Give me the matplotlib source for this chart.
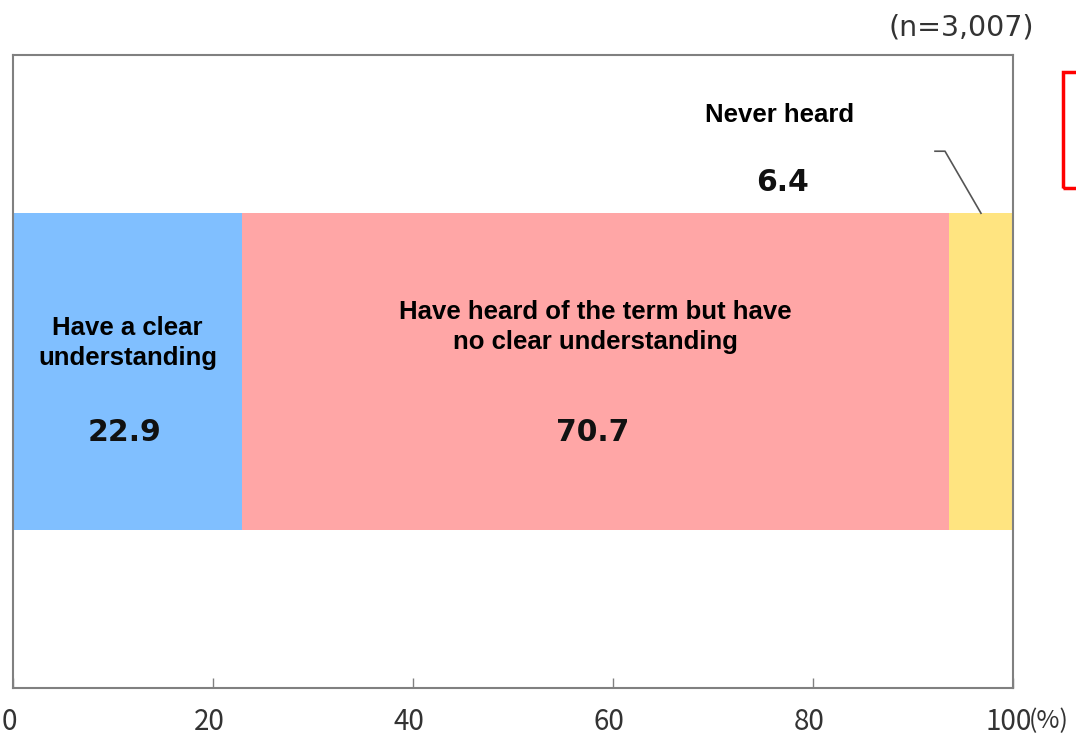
import matplotlib.pyplot as plt
from matplotlib.patches import Rectangle
from matplotlib.transforms import ScaledTranslation

# データ
categories = ["Have a clear\nunderstanding",
              "Have heard of the term but have\nno clear understanding",
              "Never heard"]
values = [22.9, 70.7, 6.4]
colors = ["#80BFFF", "#FFA6A6", "#FFE480"]
ticks = [0, 20, 40, 60, 80, 100]
n_label = "(n=3,007)"

fig = plt.figure(figsize=(10.76, 7.38), dpi=100)
ax = fig.add_axes([13 / 1076, 1 - 688 / 738, 1000 / 1076, 633 / 738])

left = 0
for cat, v, c in zip(categories, values, colors):
    ax.barh(0.5, v, left=left, height=0.5, color=c, edgecolor="none")
    left += v

ax.set_xlim(0, 100)
ax.set_ylim(0, 1)

# 棒の中のラベル
starts = [0, values[0], values[0] + values[1]]
for i in range(2):
    cx = starts[i] + values[i] / 2
    ty = 0.545 if i == 0 else 0.570
    ax.text(cx, ty, categories[i], ha="center", va="center", fontsize=18.5,
            fontweight="bold", family="Liberation Sans", linespacing=1.3)
    ax.text(cx - 0.3, 0.403, f"{values[i]:.1f}", ha="center", va="center",
            fontsize=21.5, fontweight="bold", family="DejaVu Sans", color="#111111")

# Never heard (外側)
ax.text(76.7, 0.905, categories[2], ha="center", va="center", fontsize=18.5,
        fontweight="bold", family="Liberation Sans")
ax.text(77.0, 0.799, f"{values[2]:.1f}", ha="center", va="center",
        fontsize=21.5, fontweight="bold", family="DejaVu Sans", color="#111111")
yx = starts[2] + values[2] / 2
ax.plot([92.2, 93.2, yx], [0.848, 0.848, 0.75], color="#555555", lw=1.2)

ax.text(94.8, 1.043, n_label, ha="center", va="center", fontsize=20.5,
        family="DejaVu Sans", color="#333333", clip_on=False)

for s in ["left", "bottom", "top", "right"]:
    ax.spines[s].set_color("#808080")
    ax.spines[s].set_linewidth(1.5)

ax.set_yticks([])
ax.set_xticks(ticks)
ax.set_xticklabels([str(t) for t in ticks], fontsize=20,
                   family="Noto Sans CJK JP", color="#333333")
ax.tick_params(axis="x", direction="in", length=7, width=1, color="#808080", pad=14)
shift = ScaledTranslation(-4 / 100, 0, fig.dpi_scale_trans)
for lab in ax.get_xticklabels():
    lab.set_transform(lab.get_transform() + shift)
ax.text(101.6, -0.053, "(%)", ha="left", va="center", fontsize=18,
        family="Noto Sans CJK JP", color="#333333", clip_on=False)

# 右端の赤枠(切れている)
fig.patches.append(Rectangle((1063 / 1076, 1 - 188 / 738), 40 / 1076, 116 / 738,
                             transform=fig.transFigure, fill=False,
                             edgecolor="red", lw=2.5))

fig.savefig("out.png", dpi=100)
